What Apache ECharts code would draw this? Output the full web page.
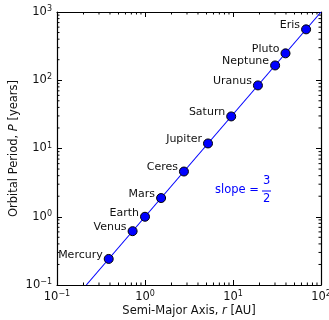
<!DOCTYPE html>
<html><head><meta charset="utf-8">
<script src="https://cdn.jsdelivr.net/npm/echarts@6/dist/echarts.min.js"></script>
<style>html,body{margin:0;padding:0;background:#fff}#c{width:329px;height:320px}</style>
</head><body><div id="c"></div>
<script>
const planets = ['Mercury','Venus','Earth','Mars','Ceres','Jupiter','Saturn','Uranus','Neptune','Pluto','Eris'];
const semiMajor = [0.387, 0.723, 1.0, 1.524, 2.77, 5.20, 9.54, 19.2, 30.1, 39.5, 67.7];
const period = [0.241, 0.615, 1.0, 1.88, 4.6, 11.86, 29.5, 84.0, 164.8, 248, 557];
const fitLineX = [0.2154, 100];
const fitLineY = [0.1, 1000];
const xTicks = [0.1, 1, 10, 100];
const yTicks = [0.1, 1, 10, 100, 1000];
const xTickLabels = ['10^−1','10^0','10^1','10^2'];
const yTickLabels = ['10^−1','10^0','10^1','10^2','10^3'];

const FONT = 'DejaVu Sans';
function expLabel(v, ticks, labels){
  for (let i=0;i<ticks.length;i++){
    if (Math.abs(Math.log10(v)-Math.log10(ticks[i]))<1e-6){
      const p = labels[i].split('^');
      return '{b|'+p[0]+'}{s|'+p[1]+'}';
    }
  }
  return '';
}
const rich = {
  b:{fontFamily:FONT,fontSize:11.5,color:'#111',lineHeight:14},
  s:{fontFamily:FONT,fontSize:8,color:'#111',verticalAlign:'top',lineHeight:9}
};

function minors(ticks){
  const out=[];
  for(let i=0;i<ticks.length-1;i++){ for(let k=2;k<=9;k++) out.push(ticks[i]*k); }
  return out;
}
const xMinor = minors(xTicks), yMinor = minors(yTicks);

const chart = echarts.init(document.getElementById('c'));
const axisLineStyle = {color:'#000', width:1.2};
const nameRich = {t:{fontFamily:FONT,fontSize:11.5,color:'#111'},i:{fontFamily:FONT,fontSize:11.5,fontStyle:'italic',color:'#111'}};
chart.setOption({
  animation:false,
  grid:{left:57,right:8,top:12,bottom:35,containLabel:false,outerBoundsMode:'none'},
  xAxis:[{
    type:'log', logBase:10, min:0.1, max:100, position:'bottom',
    axisLine:{show:true,lineStyle:axisLineStyle},
    axisTick:{show:true,inside:true,length:5,lineStyle:{color:'#000'}},
    splitLine:{show:false},
    axisLabel:{margin:5,formatter:v=>expLabel(v,xTicks,xTickLabels),rich:rich},
    name:'{t|Semi-Major Axis, }{i|r}{t| [AU]}', nameLocation:'middle', nameGap:20, nameMoveOverlap:false,
    nameTextStyle:{rich:nameRich}
  },{
    type:'log', logBase:10, min:0.1, max:100, position:'top',
    axisLine:{show:true,lineStyle:axisLineStyle},
    axisTick:{show:true,inside:true,length:5,lineStyle:{color:'#000'}},
    splitLine:{show:false}, axisLabel:{show:false}
  }],
  yAxis:[{
    type:'log', logBase:10, min:0.1, max:1000, position:'left',
    axisLine:{show:true,lineStyle:axisLineStyle},
    axisTick:{show:true,inside:true,length:5,lineStyle:{color:'#000'}},
    splitLine:{show:false},
    axisLabel:{margin:5,formatter:v=>expLabel(v,yTicks,yTickLabels),rich:rich},
    name:'{t|Orbital Period, }{i|P}{t| [years]}', nameLocation:'middle', nameGap:37, nameRotate:90, nameMoveOverlap:false,
    nameTextStyle:{rich:nameRich}
  },{
    type:'log', logBase:10, min:0.1, max:1000, position:'right',
    axisLine:{show:true,lineStyle:axisLineStyle},
    axisTick:{show:true,inside:true,length:5,lineStyle:{color:'#000'}},
    splitLine:{show:false}, axisLabel:{show:false}
  }],
  series:[
    {
      type:'custom', xAxisIndex:0, yAxisIndex:0, silent:true, clip:false, z:1,
      data:[[1,1]],
      renderItem:function(params, api){
        const children=[];
        const L=2.5;
        const yb=api.coord([1,0.1])[1], yt=api.coord([1,1000])[1];
        const xl=api.coord([0.1,1])[0], xr=api.coord([100,1])[0];
        xMinor.forEach(v=>{
          const x=api.coord([v,1])[0];
          children.push({type:'line',shape:{x1:x,y1:yb,x2:x,y2:yb-L},style:{stroke:'#000',lineWidth:1}});
          children.push({type:'line',shape:{x1:x,y1:yt,x2:x,y2:yt+L},style:{stroke:'#000',lineWidth:1}});
        });
        yMinor.forEach(v=>{
          const y=api.coord([1,v])[1];
          children.push({type:'line',shape:{x1:xl,y1:y,x2:xl+L,y2:y},style:{stroke:'#000',lineWidth:1}});
          children.push({type:'line',shape:{x1:xr,y1:y,x2:xr-L,y2:y},style:{stroke:'#000',lineWidth:1}});
        });
        return {type:'group',children:children};
      }
    },
    {
      type:'line', xAxisIndex:0, yAxisIndex:0, symbol:'none', z:2,
      data:fitLineX.map((x,i)=>[x,fitLineY[i]]),
      lineStyle:{color:'#0000ff',width:1.1}
    },
    {
      type:'scatter', xAxisIndex:0, yAxisIndex:0, z:3,
      data:semiMajor.map((x,i)=>({value:[x,period[i]],name:planets[i]})),
      symbol:'circle', symbolSize:9,
      itemStyle:{color:'#0000ff',borderColor:'#000',borderWidth:1,opacity:1},
      label:{show:true,position:'left',distance:1,offset:[0,-4],formatter:p=>p.name,
        fontFamily:FONT,fontSize:11,color:'#111'}
    }
  ],
  graphic:[
    {type:'text',left:215,top:184,style:{text:'slope =',fontFamily:FONT,fontSize:11.5,fill:'#0000ff'}},
    {type:'text',left:263,top:175,style:{text:'3',fontFamily:FONT,fontSize:11.5,fill:'#0000ff'}},
    {type:'line',shape:{x1:262,y1:191,x2:271,y2:191},style:{stroke:'#0000ff',lineWidth:1}},
    {type:'text',left:263,top:193,style:{text:'2',fontFamily:FONT,fontSize:11.5,fill:'#0000ff'}}
  ]
});
</script></body></html>
